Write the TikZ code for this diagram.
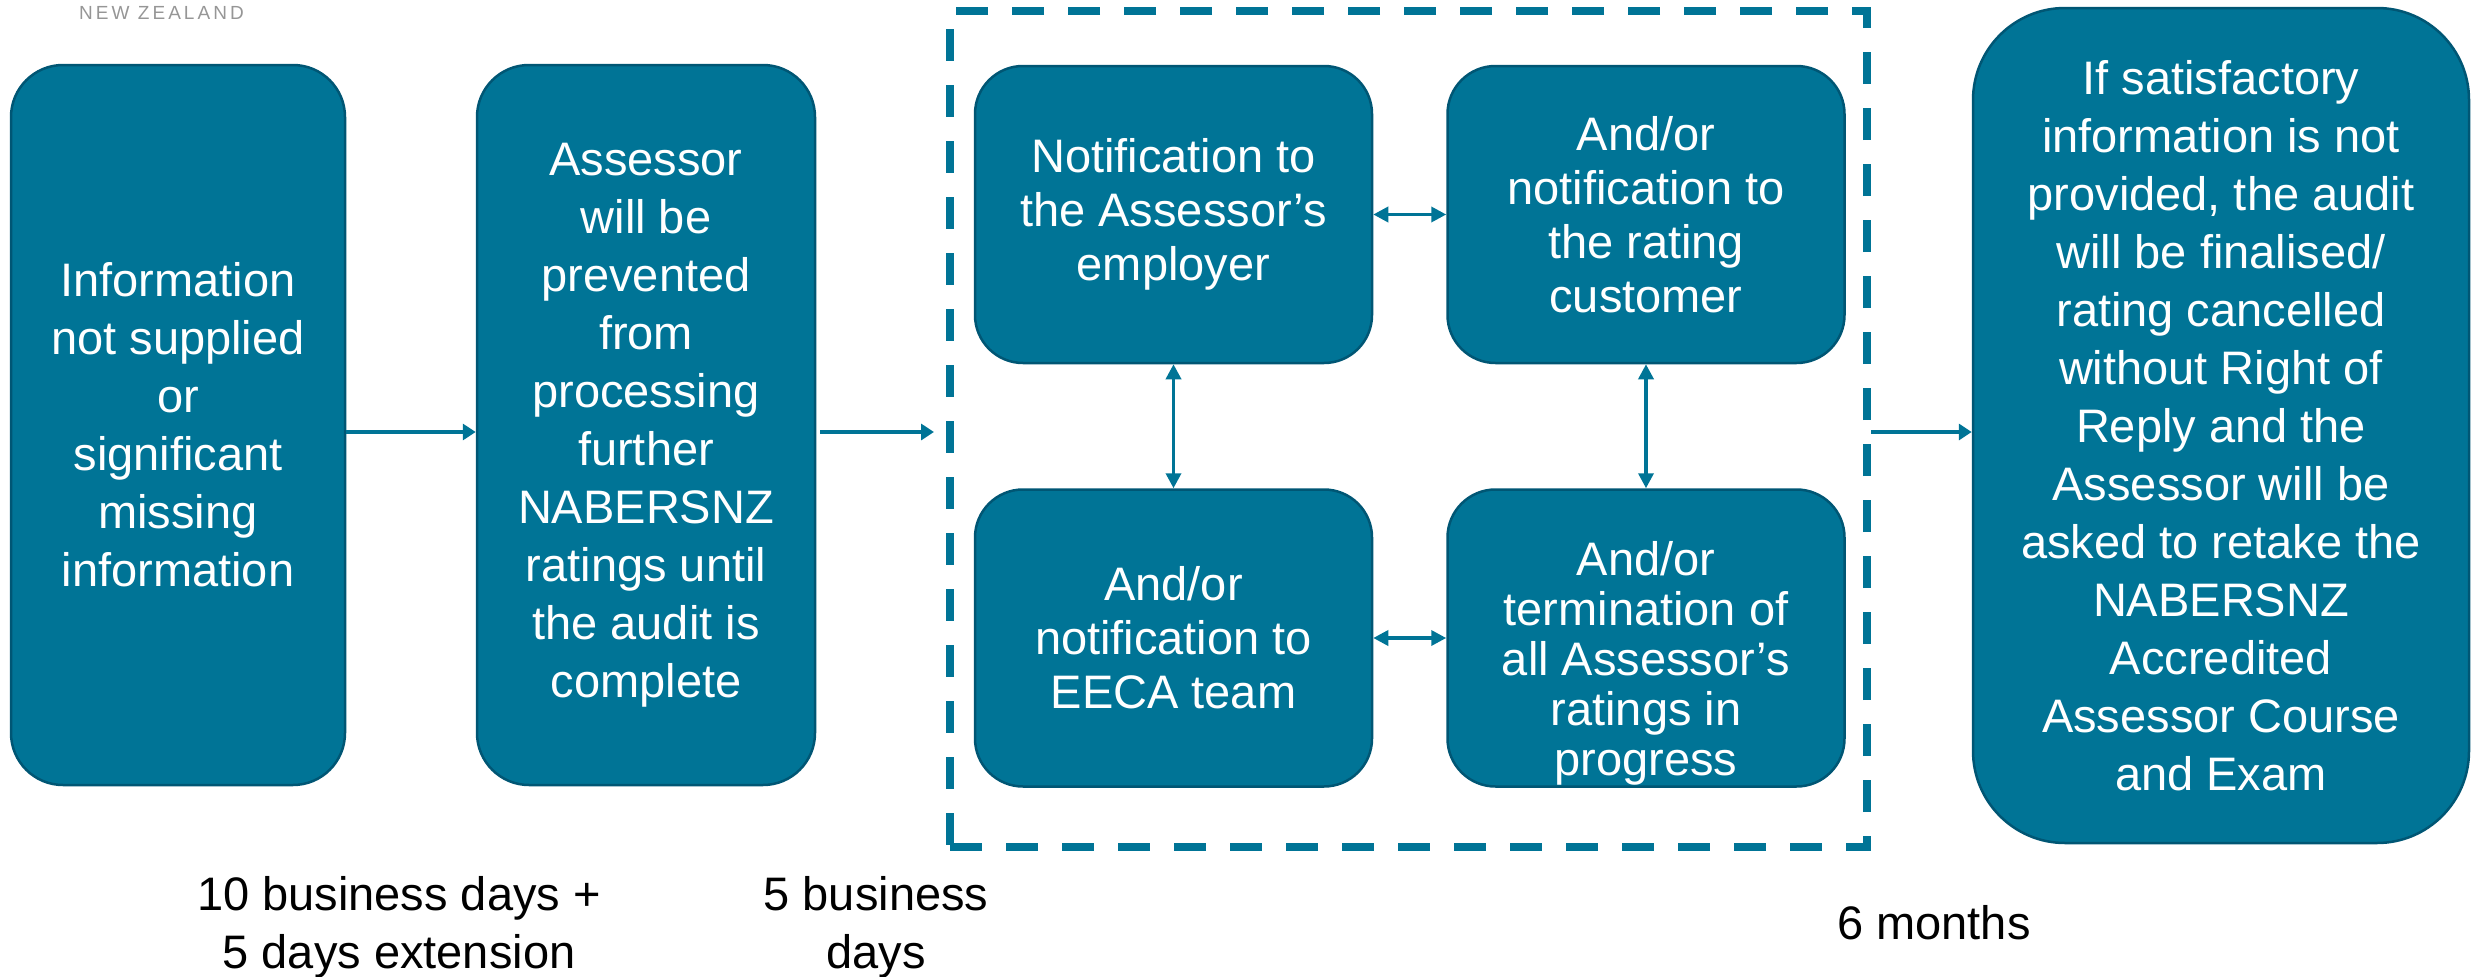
\documentclass[tikz,border=0pt]{standalone}
\usepackage{fontspec}
\setmainfont{Liberation Sans}
\usepackage{tikz}
\usetikzlibrary{arrows.meta}
\definecolor{eecateal}{RGB}{0,116,150}
\definecolor{eecaedge}{RGB}{0,86,116}
\definecolor{logogrey}{RGB}{150,150,150}

\begin{document}
\begin{tikzpicture}[x=1pt,y=-1pt,
          stage/.style={draw=eecaedge,line width=2.5pt,fill=eecateal,text=white,
            rounded corners=#1,inner sep=0pt,align=center,font=\fontsize{47}{58}\selectfont},
          stage/.default=52pt,
          note/.style={stage=48pt,font=\fontsize{47}{54}\selectfont,
            minimum width=397pt,minimum height=297pt},
          flow/.style={eecateal,line width=4pt,-{Triangle[length=13pt,width=16pt]}},
          both/.style={eecateal,line width=3.5pt,
            {Triangle[length=15pt,width=15pt]}-{Triangle[length=15pt,width=15pt]}},
          days/.style={align=center,font=\fontsize{47}{58}\selectfont}]
          \useasboundingbox (0,0) rectangle (2471,977);
          \node[text=logogrey,font=\fontsize{19}{19}\selectfont\addfontfeature{LetterSpace=16}]
            (nz) at (161.5,12.5) {NEW ZEALAND};
          \node[stage,minimum width=334pt,minimum height=720pt] (info) at (178,425)
            {Information\\not supplied\\or\\significant\\missing\\information};
          \node[stage,minimum width=338pt,minimum height=720pt] (block) at (646,425)
            {Assessor\\will be\\prevented\\from\\processing\\further\\NABERSNZ\\ratings until\\the audit is\\complete};
          \node[draw=eecateal,line width=8pt,dash pattern=on 32pt off 24pt,inner sep=0pt,
            minimum width=917pt,minimum height=836pt] (panel) at (1408.5,429) {};
          \node[note] (employer) at (1173.5,214.5) {Notification to\\the Assessor’s\\employer};
          \node[note] (customer) at (1646,214.5) {And/or\\notification to\\the rating\\customer};
          \node[note] (eeca) at (1173.5,638) {And/or\\notification to\\EECA team};
          \node[note] (terminate) at (1646,638) {};
          \node[text=white,align=center,font=\fontsize{47}{50}\selectfont] (terminatetext)
            at ([yshift=-25pt]terminate.center) {And/or\\termination of\\all Assessor’s\\ratings in\\progress};
          \node[stage=92pt,minimum width=496pt,minimum height=835pt] (cancel) at (2221,425.5)
            {If satisfactory\\information is not\\provided, the audit\\will be finalised/\\rating cancelled\\without Right of\\Reply and the\\Assessor will be\\asked to retake the\\NABERSNZ\\Accredited\\Assessor Course\\and Exam};
          \coordinate (level) at (0,432);
          \draw[flow] (info.east |- level) -- (block.west |- level);
          \draw[flow,shorten <=4pt,shorten >=12pt] (block.east |- level) -- (panel.west |- level);
          \draw[flow] (panel.east |- level) -- (cancel.west |- level);
          \draw[both] (employer) -- (customer);
          \draw[both] (eeca) -- (terminate);
          \draw[both] (employer) -- (eeca);
          \draw[both] (customer) -- (terminate);
          \node[days] (extension) at (399,927) {10 business days +\\5 days extension};
          \node[days] (fivedays) at (876,927) {5 business\\days};
          \node[days,anchor=base] (sixmonths) at (1934,939) {6 months};
        \end{tikzpicture}
\end{document}
